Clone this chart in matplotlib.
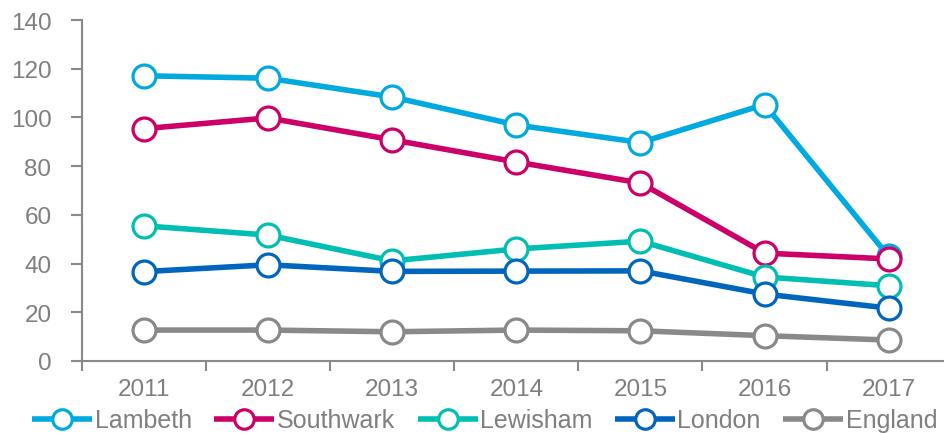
import matplotlib
matplotlib.use("Agg")
import matplotlib.pyplot as plt
import numpy as np

years = ["2011", "2012", "2013", "2014", "2015", "2016", "2017"]
lambeth = [117.1, 116.1, 108.4, 96.9, 89.7, 105.3, 43.0]
southwark = [95.4, 99.8, 90.8, 81.7, 73.1, 44.3, 41.9]
lewisham = [55.5, 51.7, 41.1, 46.0, 49.2, 34.5, 30.9]
london = [36.7, 39.5, 36.8, 36.9, 37.0, 27.5, 21.7]
england = [12.7, 12.7, 12.0, 12.7, 12.4, 10.4, 8.6]

series = [
    ("Lambeth", lambeth, "#00A9E0"),
    ("Southwark", southwark, "#CC0068"),
    ("Lewisham", lewisham, "#00BFB2"),
    ("London", london, "#0065BD"),
    ("England", england, "#898989"),
]

plt.rcParams["font.family"] = ["Liberation Sans", "DejaVu Sans"]
text_color = "#7F7F7F"
axis_color = "#898989"

fig = plt.figure(figsize=(9.45, 4.35), dpi=100)
ax = fig.add_axes([82 / 945, 73 / 435, 1 - 82 / 945 + 0.006, 341 / 435])

x = np.arange(len(years))
for name, vals, col in series:
    ax.plot(x, vals, color=col, lw=4.0, marker="o", ms=16.5,
            mfc="white", mec=col, mew=2.3, label=name, solid_capstyle="butt")

ax.set_ylim(0, 140)
ax.set_xlim(-0.5, len(years) - 0.5)
ax.set_yticks(np.arange(0, 141, 20))
ax.set_xticks(x)
ax.set_xticklabels(years)
ax.set_xticks(np.arange(-0.5, len(years), 1.0), minor=True)

for s in ("top", "right"):
    ax.spines[s].set_visible(False)
for s in ("left", "bottom"):
    ax.spines[s].set_color(axis_color)
    ax.spines[s].set_linewidth(1.5)

ax.tick_params(axis="y", direction="out", length=8, width=1.5, color=axis_color,
               labelcolor=text_color, labelsize=17.5, pad=14)
ax.tick_params(axis="x", which="major", length=0, labelcolor=text_color,
               labelsize=17.5, pad=12)
ax.tick_params(axis="x", which="minor", direction="out", length=7, width=1.5,
               color=axis_color)

leg = fig.legend(loc="lower center", bbox_to_anchor=(0.513, -0.048), ncol=5,
                 frameon=False, fontsize=18, handlelength=2.4,
                 handletextpad=0.1, columnspacing=0.9, labelcolor=text_color,
                 markerscale=0.85)

fig.savefig("out.png", dpi=100)
